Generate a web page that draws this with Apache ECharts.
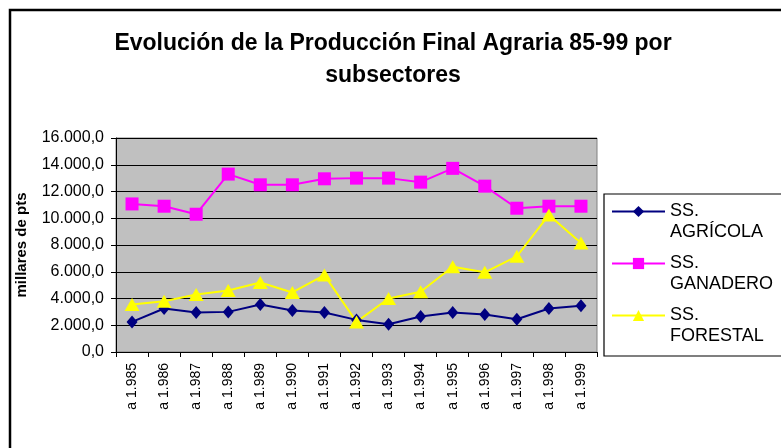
<!DOCTYPE html>
<html>
<head>
<meta charset="utf-8">
<script src="https://cdn.jsdelivr.net/npm/echarts@6/dist/echarts.min.js"></script>
<style>
  html, body { margin: 0; padding: 0; background: #fff; }
  #chart { width: 781px; height: 448px; }
</style>
</head>
<body>
<div id="chart"></div>
<script>
// años (etiquetas del eje X)
var years = ['a 1.985', 'a 1.986', 'a 1.987', 'a 1.988', 'a 1.989', 'a 1.990', 'a 1.991', 'a 1.992',
  'a 1.993', 'a 1.994', 'a 1.995', 'a 1.996', 'a 1.997', 'a 1.998', 'a 1.999'];

// valores (millares de pts)
var agricola = [2250, 3250, 2950, 3000, 3550, 3100, 2950, 2400, 2080, 2650, 2950, 2800, 2450, 3250, 3450];
var ganadero = [11070, 10900, 10300, 13300, 12500, 12500, 12950, 13000, 13000, 12700, 13730, 12400, 10750, 10900, 10900];
var forestal = [3560, 3800, 4300, 4600, 5200, 4450, 5750, 2250, 4000, 4500, 6380, 5960, 7150, 10250, 8150];

var seriesNames = ['SS. AGRÍCOLA', 'SS. GANADERO', 'SS. FORESTAL'];

var chart = echarts.init(document.getElementById('chart'));

function fmtNum(v) {
  var s = String(Math.round(v));
  s = s.replace(/\B(?=(\d{3})+(?!\d))/g, '.');
  return s + ',0';
}

var option = {
  backgroundColor: '#fff',
  animation: false,
  textStyle: { fontFamily: 'Liberation Sans, Arial, sans-serif', color: '#000' },
  title: {
    text: 'Evolución de la Producción Final Agraria 85-99 por\nsubsectores',
    left: 388,
    textAlign: 'center',
    top: 23,
    textStyle: {
      fontSize: 23,
      fontWeight: 'bold',
      lineHeight: 32,
      color: '#000',
      fontFamily: 'Liberation Sans, Arial, sans-serif'
    }
  },
  graphic: [
    {
      type: 'rect',
      shape: { x: 10, y: 10, width: 800, height: 500 },
      style: { fill: 'none', stroke: '#000', lineWidth: 2.5 },
      z: -1
    },
    {
      type: 'rect',
      shape: { x: 604, y: 194, width: 200, height: 162 },
      style: { fill: 'none', stroke: '#000', lineWidth: 1.2 }
    }
  ],
  legend: {
    orient: 'vertical',
    left: 611,
    top: 180,
    padding: 0,
    itemWidth: 53,
    itemHeight: 14,
    itemGap: -11,
    data: seriesNames,
    formatter: function(name) {
      return '\n' + name.replace(' ', '\n');
    },
    textStyle: {
      fontSize: 18,
      lineHeight: 21,
      color: '#000',
      fontFamily: 'Liberation Sans, Arial, sans-serif'
    }
  },
  grid: {
    left: 116,
    right: 184,
    top: 138,
    bottom: 96,
    show: true,
    backgroundColor: '#C0C0C0',
    borderColor: '#808080',
    borderWidth: 1
  },
  xAxis: {
    type: 'category',
    data: years,
    boundaryGap: true,
    axisLine: { lineStyle: { color: '#000', width: 1 } },
    axisTick: { show: true, length: 5, inside: false, lineStyle: { color: '#000' } },
    axisLabel: {
      rotate: 90,
      margin: 11,
      fontSize: 14,
      color: '#000',
      interval: 0
    }
  },
  yAxis: {
    type: 'value',
    min: 0,
    max: 16000,
    interval: 2000,
    name: 'millares de pts',
    nameLocation: 'middle',
    nameGap: 87,
    nameRotate: 90,
    nameTextStyle: { fontSize: 15, fontWeight: 'bold', color: '#000' },
    axisLine: { show: true, lineStyle: { color: '#000', width: 1 } },
    axisTick: { show: true, length: 5, lineStyle: { color: '#000' } },
    axisLabel: {
      margin: 12,
      fontSize: 16,
      color: '#000',
      formatter: fmtNum
    },
    splitLine: { show: true, lineStyle: { color: '#000', width: 1 } }
  },
  series: [
    {
      name: seriesNames[0],
      type: 'line',
      data: agricola,
      symbol: 'diamond',
      symbolSize: [11, 13],
      color: '#000080',
      lineStyle: { width: 2, color: '#000080' },
      itemStyle: { color: '#000080' }
    },
    {
      name: seriesNames[1],
      type: 'line',
      data: ganadero,
      symbol: 'rect',
      symbolSize: 13,
      color: '#FF00FF',
      lineStyle: { width: 2, color: '#FF00FF' },
      itemStyle: { color: '#FF00FF' }
    },
    {
      name: seriesNames[2],
      type: 'line',
      data: forestal,
      symbol: 'triangle',
      symbolSize: [15, 13],
      color: '#FFFF00',
      lineStyle: { width: 2, color: '#FFFF00' },
      itemStyle: { color: '#FFFF00' }
    }
  ]
};

chart.setOption(option);
</script>
</body>
</html>
